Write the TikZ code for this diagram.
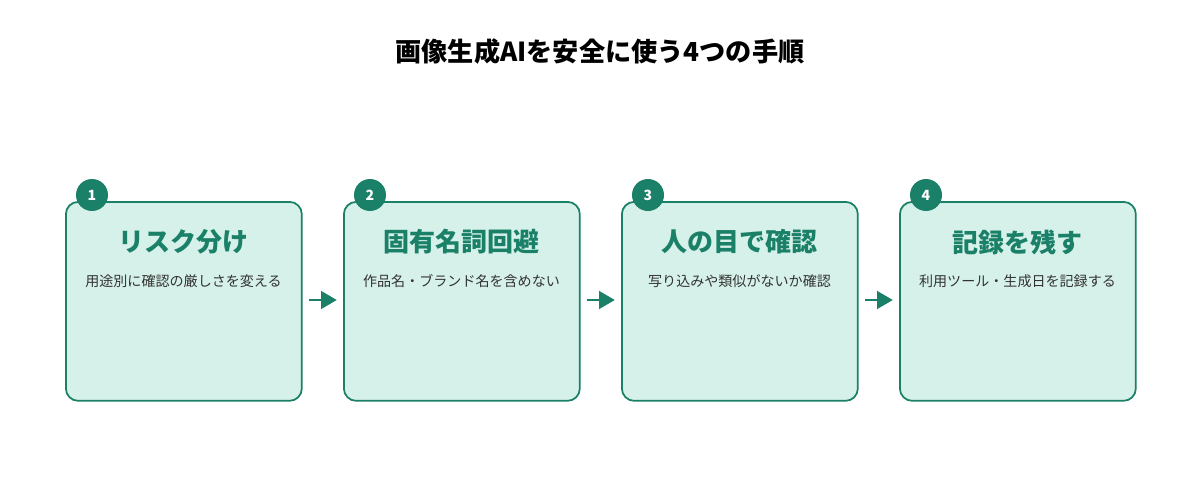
\documentclass[tikz,border=0pt]{standalone}
\usepackage{fontspec}
\setmainfont{Noto Sans CJK JP}
\usetikzlibrary{arrows.meta}
\definecolor{teal}{HTML}{1B8068}
\definecolor{mint}{HTML}{D6F1E9}
\definecolor{ink}{HTML}{333333}
\begin{document}
\begin{tikzpicture}[x=0.02cm, y=-0.02cm,
        card/.style={draw=teal, fill=mint, line width=1pt, rounded corners=7pt, minimum width=4.72cm, minimum height=3.98cm, inner sep=0pt},
        badge/.style={circle, fill=teal, text=white, minimum size=0.64cm, inner sep=0pt, font=\bfseries\fontsize{8}{8}\selectfont},
        head/.style={text=teal, font=\bfseries\fontsize{14.8}{16}\selectfont},
        sub/.style={text=ink, font=\fontsize{8}{9}\selectfont},
        flow/.style={-{Triangle[length=9pt, width=10pt]}, teal, line width=1.6pt, shorten >=3.5pt, shorten <=3.5pt},
    ]
    \useasboundingbox (0, 0) rectangle (1200, 500);
    \node[font=\bfseries\fontsize{14.9}{16}\selectfont] (title) at (600, 52) {画像生成AIを安全に使う4つの手順};

    \foreach \i/\h/\s in {1/リスク分け/用途別に確認の厳しさを変える,
                          2/固有名詞回避/作品名・ブランド名を含めない,
                          3/人の目で確認/写り込みや類似がないか確認,
                          4/記録を残す/利用ツール・生成日を記録する} {
        \pgfmathsetmacro{\xl}{65 + (\i - 1) * 278}
        \node[card, anchor=north west] (box\i) at (\xl, 201) {};
        \node[badge] (num\i) at (\xl + 27, 195) {\i};
        \node[head] (head\i) at (\xl + 118.5, 242) {\h};
        \node[sub] (sub\i) at (\xl + 118.5, 281) {\s};
    }

    \foreach \a/\b in {1/2, 2/3, 3/4}
        \draw[flow] (box\a.east |- 0, 300) -- (box\b.west |- 0, 300);
\end{tikzpicture}
\end{document}
